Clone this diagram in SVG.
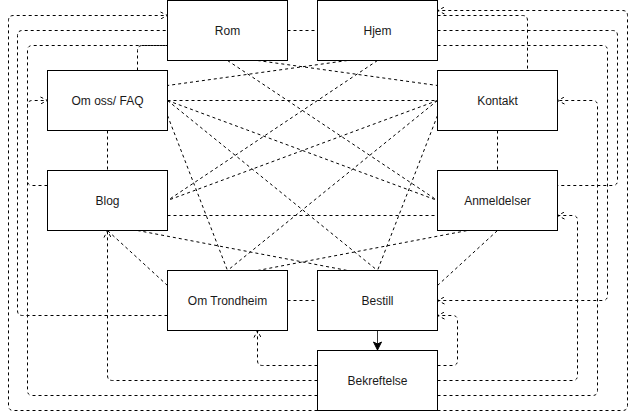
<svg xmlns="http://www.w3.org/2000/svg" width="637" height="420" viewBox="0 0 637 420">
<style>
.node rect{fill:#fff;stroke:#000;stroke-width:1}
.node text{font-family:"Liberation Sans",Arial,Helvetica,sans-serif;font-size:12px;fill:#1a1a1a;text-anchor:middle}
.e{fill:none;stroke:#000;stroke-width:1;stroke-dasharray:3 3}
.solid{fill:none;stroke:#333;stroke-width:1}
</style>
<defs>
<marker id="open" markerUnits="userSpaceOnUse" markerWidth="10" markerHeight="10" refX="8" refY="4.5" orient="auto" overflow="visible">
<path d="M1,1 L8,4.5 L1,8" fill="none" stroke="#000" stroke-width="1" stroke-dasharray="3 3"/>
</marker>
<marker id="block" markerUnits="userSpaceOnUse" markerWidth="10" markerHeight="10" refX="8" refY="4" orient="auto" overflow="visible">
<path d="M0,0 L8,4 L0,8 L2,4 Z" fill="#000" stroke="#000" stroke-width="1"/>
</marker>
</defs>
<rect width="637" height="420" fill="#fff"/>
<g id="connectors">
<path class="e" d="M287.5,30.5 H317.5"/>
<path class="e" d="M107.5,130.5 V170.5"/>
<path class="e" d="M497.5,130.5 V170.5"/>
<path class="e" d="M287.5,300.5 H317.5"/>
<path class="e" d="M167.5,100.5 H437.5"/>
<path class="e" d="M167.5,215.5 H437.5"/>
<path class="e" d="M227.5,60.5 L437.5,200.5"/>
<path class="e" d="M257.5,60.5 L437.5,85.5"/>
<path class="e" d="M347.5,60.5 L167.5,85.5"/>
<path class="e" d="M377.5,60.5 L167.5,200.5"/>
<path class="e" d="M167.5,100.5 L437.5,200.5"/>
<path class="e" d="M167.5,100.5 L377.5,270.5"/>
<path class="e" d="M167.5,115.5 L227.5,270.5"/>
<path class="e" d="M437.5,100.5 L167.5,200.5"/>
<path class="e" d="M437.5,100.5 L227.5,270.5"/>
<path class="e" d="M437.5,115.5 L377.5,270.5"/>
<path class="e" d="M137.5,230.5 L347.5,270.5"/>
<path class="e" d="M257.5,270.5 L467.5,230.5"/>
<path class="e" d="M437.5,285.5 L497.5,230.5"/>
<path class="e" d="M167.5,285.5 L107.5,230.5"/>
<path class="e" d="M137.5,70.5 V50.5 Q137.5,45.5 142.5,45.5 H167.5"/>
<path class="e" marker-end="url(#open)" d="M317.5,410.5 H13.5 Q8.5,410.5 8.5,405.5 V20.5 Q8.5,15.5 13.5,15.5 H167.5"/>
<path class="e" d="M167.5,315.5 H22.5 Q17.5,315.5 17.5,310.5 V35.5 Q17.5,30.5 22.5,30.5 H167.5"/>
<path class="e" d="M317.5,395.5 H32.5 Q27.5,395.5 27.5,390.5 V50.5 Q27.5,45.5 32.5,45.5 H167.5"/>
<path class="e" marker-end="url(#open)" d="M47.5,185.5 H32.5 Q27.5,185.5 27.5,180.5 V105.5 Q27.5,100.5 32.5,100.5 H47.5"/>
<path class="e" marker-end="url(#open)" d="M317.5,380.5 H112.5 Q107.5,380.5 107.5,375.5 V230.5"/>
<path class="e" marker-end="url(#open)" d="M317.5,365.5 H262.5 Q257.5,365.5 257.5,360.5 V330.5"/>
<path class="e" marker-end="url(#open)" d="M437.5,410.5 H622.5 Q627.5,410.5 627.5,405.5 V15.5 Q627.5,10.5 622.5,10.5 H437.5"/>
<path class="e" d="M437.5,15.5 H522.5 Q527.5,15.5 527.5,20.5 V70.5"/>
<path class="e" d="M437.5,30.5 H612.5 Q617.5,30.5 617.5,35.5 V180.5 Q617.5,185.5 612.5,185.5 H557.5"/>
<path class="e" marker-end="url(#open)" d="M437.5,45.5 H602.5 Q607.5,45.5 607.5,50.5 V295.5 Q607.5,300.5 602.5,300.5 H437.5"/>
<path class="e" marker-end="url(#open)" d="M437.5,395.5 H592.5 Q597.5,395.5 597.5,390.5 V105.5 Q597.5,100.5 592.5,100.5 H557.5"/>
<path class="e" marker-end="url(#open)" d="M437.5,380.5 H572.5 Q577.5,380.5 577.5,375.5 V220.5 Q577.5,215.5 572.5,215.5 H557.5"/>
<path class="e" marker-end="url(#open)" d="M437.5,365.5 H452.5 Q457.5,365.5 457.5,360.5 V320.5 Q457.5,315.5 452.5,315.5 H437.5"/>
<path class="solid" marker-end="url(#block)" d="M377.5,330.5 V350"/>
</g>
<g id="rom" class="node"><rect x="167.5" y="0.5" width="120" height="60"/><text x="227.5" y="34.5">Rom</text></g>
<g id="hjem" class="node"><rect x="317.5" y="0.5" width="120" height="60"/><text x="377.5" y="34.5">Hjem</text></g>
<g id="omoss" class="node"><rect x="47.5" y="70.5" width="120" height="60"/><text x="107.5" y="104.5">Om oss/ FAQ</text></g>
<g id="kontakt" class="node"><rect x="437.5" y="70.5" width="120" height="60"/><text x="497.5" y="104.5">Kontakt</text></g>
<g id="blog" class="node"><rect x="47.5" y="170.5" width="120" height="60"/><text x="107.5" y="204.5">Blog</text></g>
<g id="anmeldelser" class="node"><rect x="437.5" y="170.5" width="120" height="60"/><text x="497.5" y="204.5">Anmeldelser</text></g>
<g id="omtrondheim" class="node"><rect x="167.5" y="270.5" width="120" height="60"/><text x="227.5" y="304.5">Om Trondheim</text></g>
<g id="bestill" class="node"><rect x="317.5" y="270.5" width="120" height="60"/><text x="377.5" y="304.5">Bestill</text></g>
<g id="bekreftelse" class="node"><rect x="317.5" y="350.5" width="120" height="60"/><text x="377.5" y="384.5">Bekreftelse</text></g>
</svg>
